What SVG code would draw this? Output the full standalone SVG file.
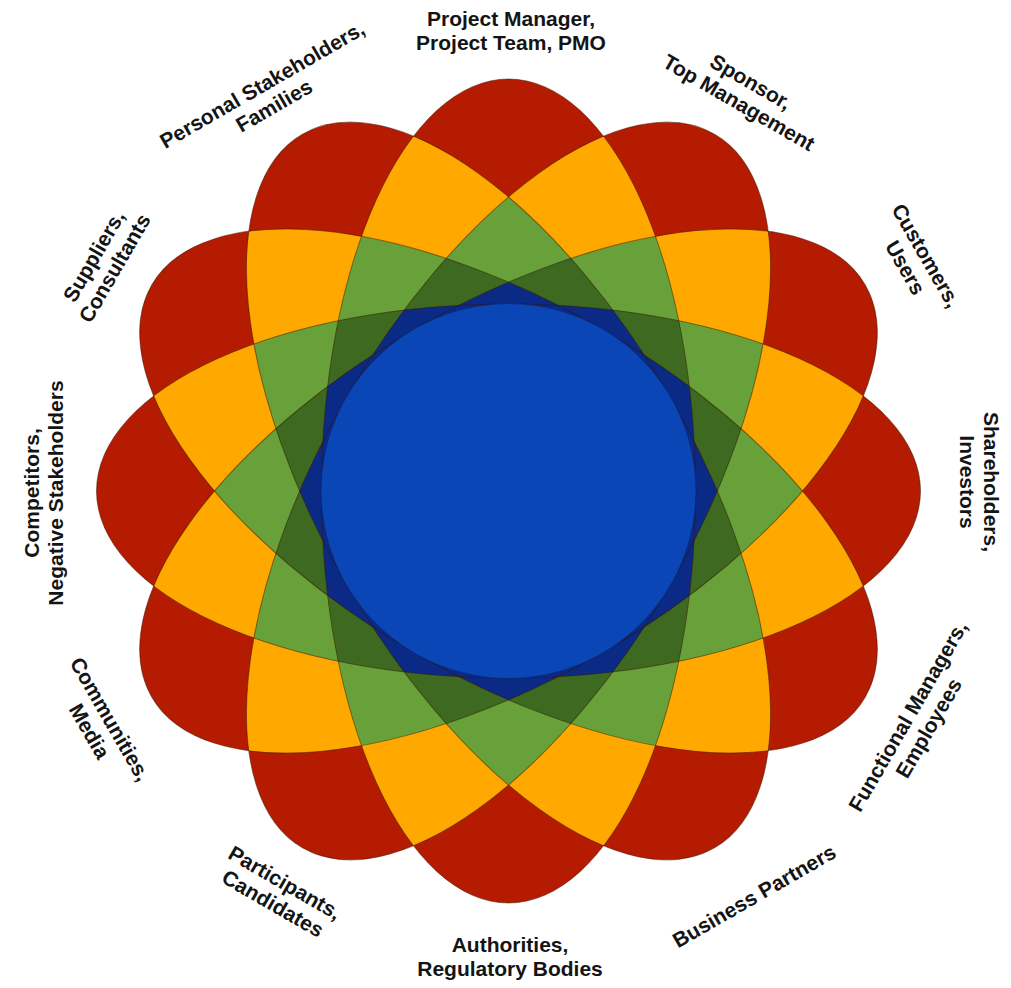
<svg xmlns="http://www.w3.org/2000/svg" xmlns:xlink="http://www.w3.org/1999/xlink" width="1011" height="988" viewBox="0 0 1011 988">
<style>
.lbl text{font-family:"Liberation Sans",Arial,sans-serif;font-weight:bold;font-size:21px;fill:#141414;text-anchor:middle}
.c1{fill:#B51B00}.c2{fill:#FFA800}.c3{fill:#68A139}.c4{fill:#3D6921}.c5{fill:#0B2A86}.c6{fill:#0B46B6}
</style>
<defs>
<ellipse id="e0" cx="508.5" cy="491" rx="187" ry="412"/>
<ellipse id="e1" cx="508.5" cy="491" rx="187" ry="412" transform="rotate(30 508.5 491)"/>
<ellipse id="e2" cx="508.5" cy="491" rx="187" ry="412" transform="rotate(60 508.5 491)"/>
<ellipse id="e3" cx="508.5" cy="491" rx="187" ry="412" transform="rotate(90 508.5 491)"/>
<ellipse id="e4" cx="508.5" cy="491" rx="187" ry="412" transform="rotate(120 508.5 491)"/>
<ellipse id="e5" cx="508.5" cy="491" rx="187" ry="412" transform="rotate(150 508.5 491)"/>
<clipPath id="c0"><use href="#e0"/></clipPath>
<clipPath id="c1"><use href="#e1"/></clipPath>
<clipPath id="c2"><use href="#e2"/></clipPath>
<clipPath id="c3"><use href="#e3"/></clipPath>
<clipPath id="c4"><use href="#e4"/></clipPath>
<clipPath id="c5"><use href="#e5"/></clipPath>
</defs>
<rect width="1011" height="988" fill="#ffffff"/>
<g id="flower">
<g id="petals" class="c1">
<use href="#e0"/><use href="#e1"/><use href="#e2"/><use href="#e3"/><use href="#e4"/><use href="#e5"/>
</g>
<g id="overlap2" class="c2">
<use href="#e0" clip-path="url(#c1)"/><use href="#e0" clip-path="url(#c2)"/><use href="#e0" clip-path="url(#c3)"/><use href="#e0" clip-path="url(#c4)"/><use href="#e0" clip-path="url(#c5)"/>
<use href="#e1" clip-path="url(#c2)"/><use href="#e1" clip-path="url(#c3)"/><use href="#e1" clip-path="url(#c4)"/><use href="#e1" clip-path="url(#c5)"/>
<use href="#e2" clip-path="url(#c3)"/><use href="#e2" clip-path="url(#c4)"/><use href="#e2" clip-path="url(#c5)"/>
<use href="#e3" clip-path="url(#c4)"/><use href="#e3" clip-path="url(#c5)"/>
<use href="#e4" clip-path="url(#c5)"/>
</g>
<g id="overlap3" class="c3">
<g clip-path="url(#c2)"><use href="#e0" clip-path="url(#c1)"/></g>
<g clip-path="url(#c3)"><use href="#e0" clip-path="url(#c1)"/></g>
<g clip-path="url(#c4)"><use href="#e0" clip-path="url(#c1)"/></g>
<g clip-path="url(#c5)"><use href="#e0" clip-path="url(#c1)"/></g>
<g clip-path="url(#c3)"><use href="#e0" clip-path="url(#c2)"/></g>
<g clip-path="url(#c4)"><use href="#e0" clip-path="url(#c2)"/></g>
<g clip-path="url(#c5)"><use href="#e0" clip-path="url(#c2)"/></g>
<g clip-path="url(#c4)"><use href="#e0" clip-path="url(#c3)"/></g>
<g clip-path="url(#c5)"><use href="#e0" clip-path="url(#c3)"/></g>
<g clip-path="url(#c5)"><use href="#e0" clip-path="url(#c4)"/></g>
<g clip-path="url(#c3)"><use href="#e1" clip-path="url(#c2)"/></g>
<g clip-path="url(#c4)"><use href="#e1" clip-path="url(#c2)"/></g>
<g clip-path="url(#c5)"><use href="#e1" clip-path="url(#c2)"/></g>
<g clip-path="url(#c4)"><use href="#e1" clip-path="url(#c3)"/></g>
<g clip-path="url(#c5)"><use href="#e1" clip-path="url(#c3)"/></g>
<g clip-path="url(#c5)"><use href="#e1" clip-path="url(#c4)"/></g>
<g clip-path="url(#c4)"><use href="#e2" clip-path="url(#c3)"/></g>
<g clip-path="url(#c5)"><use href="#e2" clip-path="url(#c3)"/></g>
<g clip-path="url(#c5)"><use href="#e2" clip-path="url(#c4)"/></g>
<g clip-path="url(#c5)"><use href="#e3" clip-path="url(#c4)"/></g>
</g>
<g id="overlap4" class="c4">
<g clip-path="url(#c5)"><g clip-path="url(#c4)"><use href="#e2" clip-path="url(#c3)"/></g></g>
<g clip-path="url(#c5)"><g clip-path="url(#c4)"><use href="#e1" clip-path="url(#c3)"/></g></g>
<g clip-path="url(#c5)"><g clip-path="url(#c4)"><use href="#e1" clip-path="url(#c2)"/></g></g>
<g clip-path="url(#c5)"><g clip-path="url(#c3)"><use href="#e1" clip-path="url(#c2)"/></g></g>
<g clip-path="url(#c4)"><g clip-path="url(#c3)"><use href="#e1" clip-path="url(#c2)"/></g></g>
<g clip-path="url(#c5)"><g clip-path="url(#c4)"><use href="#e0" clip-path="url(#c3)"/></g></g>
<g clip-path="url(#c5)"><g clip-path="url(#c4)"><use href="#e0" clip-path="url(#c2)"/></g></g>
<g clip-path="url(#c5)"><g clip-path="url(#c3)"><use href="#e0" clip-path="url(#c2)"/></g></g>
<g clip-path="url(#c4)"><g clip-path="url(#c3)"><use href="#e0" clip-path="url(#c2)"/></g></g>
<g clip-path="url(#c5)"><g clip-path="url(#c4)"><use href="#e0" clip-path="url(#c1)"/></g></g>
<g clip-path="url(#c5)"><g clip-path="url(#c3)"><use href="#e0" clip-path="url(#c1)"/></g></g>
<g clip-path="url(#c4)"><g clip-path="url(#c3)"><use href="#e0" clip-path="url(#c1)"/></g></g>
<g clip-path="url(#c5)"><g clip-path="url(#c2)"><use href="#e0" clip-path="url(#c1)"/></g></g>
<g clip-path="url(#c4)"><g clip-path="url(#c2)"><use href="#e0" clip-path="url(#c1)"/></g></g>
<g clip-path="url(#c3)"><g clip-path="url(#c2)"><use href="#e0" clip-path="url(#c1)"/></g></g>
</g>
<g id="overlap5" class="c5">
<g clip-path="url(#c5)"><g clip-path="url(#c4)"><g clip-path="url(#c3)"><use href="#e1" clip-path="url(#c2)"/></g></g></g>
<g clip-path="url(#c5)"><g clip-path="url(#c4)"><g clip-path="url(#c3)"><use href="#e0" clip-path="url(#c2)"/></g></g></g>
<g clip-path="url(#c5)"><g clip-path="url(#c4)"><g clip-path="url(#c3)"><use href="#e0" clip-path="url(#c1)"/></g></g></g>
<g clip-path="url(#c5)"><g clip-path="url(#c4)"><g clip-path="url(#c2)"><use href="#e0" clip-path="url(#c1)"/></g></g></g>
<g clip-path="url(#c5)"><g clip-path="url(#c3)"><g clip-path="url(#c2)"><use href="#e0" clip-path="url(#c1)"/></g></g></g>
<g clip-path="url(#c4)"><g clip-path="url(#c3)"><g clip-path="url(#c2)"><use href="#e0" clip-path="url(#c1)"/></g></g></g>
</g>
<g id="outlines" fill="none" stroke="#3a1400" stroke-opacity="0.5" stroke-width="1">
<use href="#e0"/><use href="#e1"/><use href="#e2"/><use href="#e3"/><use href="#e4"/><use href="#e5"/>
</g>
<circle id="core" class="c6" cx="508.5" cy="491" r="187.5" stroke="#06205a" stroke-opacity="0.5" stroke-width="1"/>
</g>
<g class="lbl">
<g id="label-pm" transform="translate(511 30)"><text y="-4.5">Project Manager,</text><text y="19.5">Project Team, PMO</text></g>
<g id="label-sponsor" transform="translate(745 92) rotate(30)"><text y="-4.5">Sponsor,</text><text y="19.5">Top Management</text></g>
<g id="label-customers" transform="translate(916 261.5) rotate(60)"><text y="-4.5">Customers,</text><text y="19.5">Users</text></g>
<g id="label-shareholders" transform="translate(979 482) rotate(90)"><text y="-4.5">Shareholders,</text><text y="19.5">Investors</text></g>
<g id="label-functional" transform="translate(918 722) rotate(-60)"><text y="-4.5">Functional Managers,</text><text y="19.5">Employees</text></g>
<g id="label-business" transform="translate(754 896) rotate(-30)"><text y="7.5">Business Partners</text></g>
<g id="label-authorities" transform="translate(510 956)"><text y="-4.5">Authorities,</text><text y="19.5">Regulatory Bodies</text></g>
<g id="label-participants" transform="translate(279 893) rotate(30)"><text y="-4.5">Participants,</text><text y="19.5">Candidates</text></g>
<g id="label-communities" transform="translate(100 725) rotate(60)"><text y="-4.5">Communities,</text><text y="19.5">Media</text></g>
<g id="label-competitors" transform="translate(43 493) rotate(-90)"><text y="-4.5">Competitors,</text><text y="19.5">Negative Stakeholders</text></g>
<g id="label-suppliers" transform="translate(104 262) rotate(-60)"><text y="-4.5">Suppliers,</text><text y="19.5">Consultants</text></g>
<g id="label-personal" transform="translate(268 95) rotate(-30)"><text y="-4.5">Personal Stakeholders,</text><text y="19.5">Families</text></g>
</g>
</svg>
